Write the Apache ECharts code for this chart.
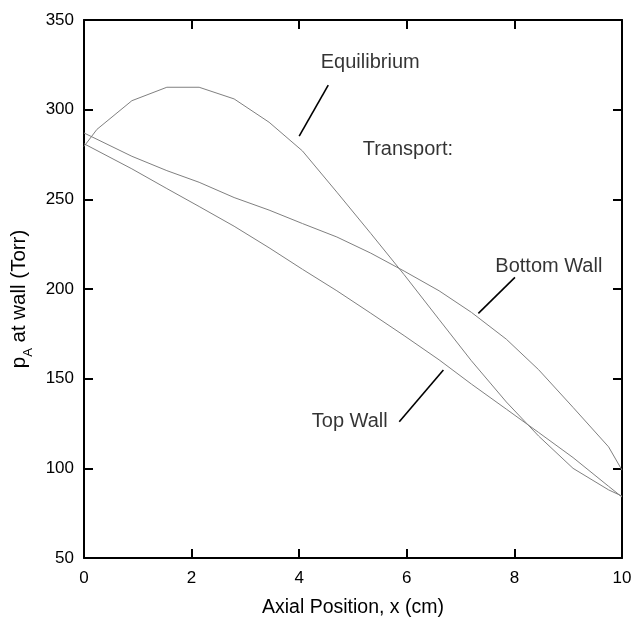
<!DOCTYPE html>
<html><head><meta charset="utf-8">
<script src="https://cdn.jsdelivr.net/npm/echarts@6/dist/echarts.min.js"></script>
<style>html,body{margin:0;padding:0;background:#fff}#c{width:641px;height:619px}</style>
</head><body><div id="c"></div>
<script>
// ---- data ----
const xTicks = [0, 2, 4, 6, 8, 10];
const yTicks = [50, 100, 150, 200, 250, 300, 350];
const eqX = [0, 0.24, 0.89, 1.54, 2.14, 2.79, 3.44, 4.06, 4.7, 5.33, 5.95, 6.6, 7.2, 7.85, 8.45, 9.09, 9.75, 10];
const eqP = [279.5, 289, 305, 312.5, 312.5, 306, 293, 277, 254, 231, 208, 183, 160, 137, 118, 100, 88, 84.5];
const wallX = [0, 0.89, 1.54, 2.14, 2.79, 3.44, 4.06, 4.7, 5.33, 5.95, 6.6, 7.2, 7.85, 8.45, 9.09, 9.75, 10];
const bottomP = [287, 274, 266, 259.5, 251, 244, 236.5, 229, 220, 210, 199, 187, 172, 155, 134, 112, 99];
const topP = [281, 267, 256, 246, 235, 223, 211, 199, 186.5, 174, 160.5, 147, 133, 120, 106, 90, 84];
const labelTexts = ['Equilibrium', 'Transport:', 'Bottom Wall', 'Top Wall'];
const labelAt = [[5.32, 326.5], [6.02, 278], [8.64, 212.5], [4.94, 126]];
const leaders = [
  [[4.54, 313.7], [4.00, 285.3]],
  [[8.01, 206.5], [7.33, 186.4]],
  [[6.68, 154.8], [5.86, 126.0]]
];
// ---- chart ----
const FONT = "'Liberation Sans', Arial, sans-serif";
const pairs = (xs, ys) => xs.map((x, i) => [x, ys[i]]);
const axisCommon = {
  axisLine: { show: true, onZero: false, lineStyle: { color: '#000', width: 2 } },
  axisTick: { show: true, inside: true, length: 9, lineStyle: { color: '#000', width: 2 } },
  splitLine: { show: false }
};
const lineS = (name, data) => ({
  name, type: 'line', data, symbol: 'none', smooth: false,
  lineStyle: { color: '#808080', width: 1 }, silent: true
});
const chart = echarts.init(document.getElementById('c'), null, { renderer: 'canvas' });
chart.setOption({
  animation: false,
  backgroundColor: '#fff',
  grid: { left: 84, right: 19, top: 20, bottom: 61, containLabel: false, outerBoundsMode: 'none' },
  xAxis: [
    Object.assign({
      type: 'value', min: xTicks[0], max: xTicks[xTicks.length - 1], interval: 2, position: 'bottom',
      axisLabel: { fontSize: 17, color: '#000', fontFamily: FONT, margin: 12 },
      name: 'Axial Position, x (cm)', nameLocation: 'middle', nameGap: 40,
      nameTextStyle: { fontSize: 19.5, color: '#000', fontFamily: FONT }
    }, axisCommon),
    Object.assign({
      type: 'value', min: xTicks[0], max: xTicks[xTicks.length - 1], interval: 2, position: 'top',
      axisLabel: { show: false }
    }, axisCommon)
  ],
  yAxis: [
    Object.assign({
      type: 'value', min: yTicks[0], max: yTicks[yTicks.length - 1], interval: 50, position: 'left',
      axisLabel: { fontSize: 17, color: '#000', fontFamily: FONT, margin: 10 },
      name: '{p|p}{s|A}{p| at wall (Torr)}', nameLocation: 'middle', nameGap: 49, nameRotate: 90,
      nameTextStyle: {
        fontFamily: FONT, color: '#000', padding: [0, 0, 0, -20],
        rich: {
          p: { fontSize: 20.5, fontFamily: FONT, color: '#000', verticalAlign: 'bottom', lineHeight: 23 },
          s: { fontSize: 13, fontFamily: FONT, color: '#000', verticalAlign: 'bottom', lineHeight: 23, padding: [0, 0, -5, 0] }
        }
      }
    }, axisCommon),
    Object.assign({
      type: 'value', min: yTicks[0], max: yTicks[yTicks.length - 1], interval: 50, position: 'right',
      axisLabel: { show: false }
    }, axisCommon)
  ],
  series: [
    lineS('Equilibrium', pairs(eqX, eqP)),
    lineS('Bottom Wall', pairs(wallX, bottomP)),
    lineS('Top Wall', pairs(wallX, topP)),
    {
      name: 'labels', type: 'scatter', symbolSize: 0, silent: true,
      data: labelAt.map((c, i) => ({ value: c, name: labelTexts[i] })),
      label: {
        show: true, position: 'inside', formatter: p => p.name,
        fontSize: 20, color: '#000', fontFamily: FONT, textBorderWidth: 0
      },
      markLine: {
        silent: true, symbol: 'none', animation: false,
        lineStyle: { color: '#000', width: 1.6, type: 'solid' },
        label: { show: false },
        data: leaders.map(l => [{ coord: l[0] }, { coord: l[1] }])
      }
    }
  ]
});
</script>
</body></html>
